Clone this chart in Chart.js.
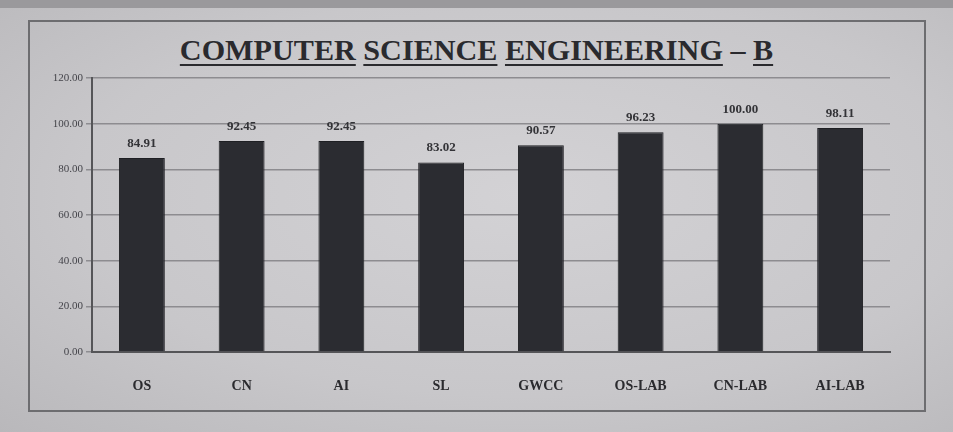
<!DOCTYPE html>
<html>
<head>
<meta charset="utf-8">
<script src="https://cdn.jsdelivr.net/npm/chart.js@4/dist/chart.umd.min.js"></script>
<style>
  html, body { margin:0; padding:0; }
  body { width:953px; height:432px; overflow:hidden; position:relative;
    background: radial-gradient(ellipse at 55% 45%, #d3d2d5 0%, #c8c7ca 60%, #b9b8bb 100%); }
  #frame { position:absolute; left:28px; top:20px; width:898px; height:392px; border:2px solid #6d6d70; box-sizing:border-box; }
  #topstrip { position:absolute; left:0; top:0; width:953px; height:8px; background:#9a999c; }
  #title { position:absolute; left:0; top:34px; width:953px; text-align:center; font-family:"Liberation Serif", "DejaVu Serif", serif;
    font-weight:bold; font-size:29px; color:#2a2a2e; letter-spacing:0px; transform:scaleX(1.04); }
  #title u { text-decoration-thickness:2px; text-underline-offset:4px; }
  canvas { position:absolute; left:0; top:0; }
</style>
</head>
<body>
<div id="topstrip"></div>
<div id="frame"></div>
<div id="title"><u>COMPUTER</u> <u>SCIENCE</u> <u>ENGINEERING</u> – <u>B</u></div>
<canvas id="c" width="953" height="432"></canvas>
<script>
const categories = ["OS", "CN", "AI", "SL", "GWCC", "OS-LAB", "CN-LAB", "AI-LAB"];
const values = [84.91, 92.45, 92.45, 83.02, 90.57, 96.23, 100.00, 98.11];
const yTicks = [0, 20, 40, 60, 80, 100, 120];

const valueLabels = {
  id: 'valueLabels',
  afterDatasetsDraw(chart) {
    const ctx = chart.ctx;
    const meta = chart.getDatasetMeta(0);
    ctx.save();
    ctx.font = 'bold 13px "Liberation Serif", serif';
    ctx.fillStyle = '#333337';
    ctx.textAlign = 'center';
    ctx.textBaseline = 'bottom';
    meta.data.forEach((bar, i) => {
      ctx.fillText(values[i].toFixed(2), bar.x, bar.y - 8);
    });
    ctx.restore();
  }
};

new Chart(document.getElementById('c'), {
  type: 'bar',
  data: {
    labels: categories,
    datasets: [{
      data: values,
      backgroundColor: '#2b2c31',
      borderColor: '#1e1f23',
      borderWidth: 1,
      barPercentage: 0.46,
      categoryPercentage: 1.0
    }]
  },
  options: {
    responsive: false,
    animation: false,
    layout: { padding: { left: 30, top: 78, right: 63, bottom: 30 } },
    plugins: { legend: { display: false }, tooltip: { enabled: false } },
    scales: {
      x: {
        grid: { display: false },
        border: { color: '#555558', width: 2 },
        ticks: { color: '#2a2a2e', font: { family: '"Liberation Serif", serif', size: 14, weight: 'bold' }, padding: 18 },
        afterFit(s) { s.height = 50; }
      },
      y: {
        min: 0, max: 120,
        afterBuildTicks(s) { s.ticks = yTicks.map(v => ({ value: v })); },
        grid: { color: '#8d8c90', lineWidth: 1.5, drawTicks: true, tickLength: 6 },
        border: { color: '#555558', width: 2 },
        ticks: { color: '#44444a', font: { family: '"Liberation Serif", serif', size: 11 },
          callback: v => Number(v).toFixed(2) },
        afterFit(s) { s.width = 62; }
      }
    }
  },
  plugins: [valueLabels]
});
</script>
</body>
</html>
